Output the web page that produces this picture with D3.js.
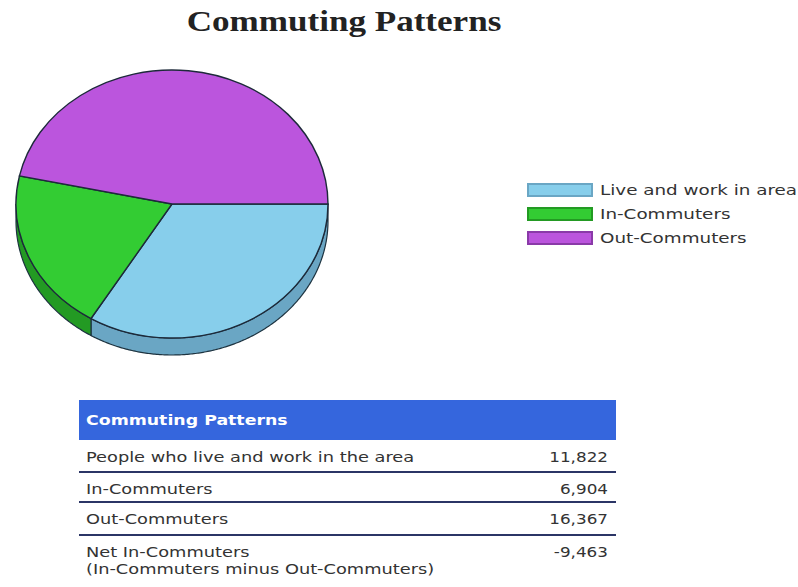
<!DOCTYPE html>
<html>
<head>
<meta charset="utf-8">
<script src="https://cdn.jsdelivr.net/npm/d3@7"></script>
<style>
  body { margin: 0; background: #fff; }
</style>
</head>
<body>
<script>
// data
var categories = ['Live and work in area', 'In-Commuters', 'Out-Commuters'];
var values = [11822, 6904, 16367];
var topColors = ['#87ceeb', '#33cc33', '#bb55dd'];
var sideColors = ['#6aa6c4', '#239a23', '#8a3aa8'];

var rowLabels = [['People who live and work in the area'], ['In-Commuters'], ['Out-Commuters'],
  ['Net In-Commuters', '(In-Commuters minus Out-Commuters)']];
var rowValues = [11822, 6904, 16367, -9463];

var width = 798, height = 587;
var font = 'DejaVu Sans, Verdana, sans-serif';
// the reference is a bit stretched sideways, so text gets a horizontal scale
var stretch = 1.27;
var fmt = d3.formatLocale({decimal: '.', thousands: ',', grouping: [3], currency: ['$', ''], minus: '-'}).format(',');

var svg = d3.select('body').append('svg')
  .attr('width', width)
  .attr('height', height)

function label(parent, x, y, s, sx) {
  return parent.append('text')
    .attr('transform', 'translate(' + x + ',' + y + ') scale(' + (sx || stretch) + ',1)')
    .attr('font-family', font)
    .attr('font-size', 14)
    .attr('fill', '#333')
    .text(s)
}

label(svg, 344, 31, 'Commuting Patterns', 1.17)
  .attr('text-anchor', 'middle')
  .attr('font-family', 'Liberation Serif, serif')
  .attr('font-weight', 'bold')
  .attr('font-size', 30)
  .attr('fill', '#222')

// pie: ellipse centre, radii, thickness
var cx = 172, cy = 204, rx = 156, ry = 134, depth = 17;

var pie = d3.pie().sort(null)
  .startAngle(Math.PI / 2)
  .endAngle(Math.PI / 2 + 2 * Math.PI);
var arcs = pie(values);

// screen angle (0 = east, clockwise) from d3 angle
function sa(a) { return a - Math.PI / 2; }
function pt(t, dy) { return [cx + rx * Math.cos(t), cy + ry * Math.sin(t) + (dy || 0)]; }

var line = d3.line();
var wall = svg.append('g');
arcs.forEach(function(d, i) {
  var a0 = Math.max(sa(d.startAngle), 0), a1 = Math.min(sa(d.endAngle), Math.PI);
  if (a1 <= a0) return;
  var ts = d3.range(a0, a1, 0.01).concat([a1]);
  var pts = ts.map(function(t) { return pt(t); })
    .concat(ts.slice().reverse().map(function(t) { return pt(t, depth); }));
  wall.append('path')
    .attr('d', line(pts) + 'Z')
    .attr('fill', sideColors[i])
    .attr('stroke', '#1d3340')
    .attr('stroke-width', 1.2)
})

var arc = d3.arc().innerRadius(0).outerRadius(rx);
svg.append('g')
  .attr('transform', 'translate(' + cx + ',' + cy + ') scale(1,' + (ry / rx) + ')')
  .selectAll('path')
  .data(arcs)
  .enter().append('path')
  .attr('d', arc)
  .attr('fill', function(d, i) { return topColors[i] })
  .attr('stroke', '#1d2a3a')
  .attr('stroke-width', 1.4)
  .attr('vector-effect', 'non-scaling-stroke')

// legend
var legend = svg.append('g').selectAll('g')
  .data(categories)
  .enter().append('g')
  .attr('transform', function(d, i) { return 'translate(528,' + (184 + i * 24) + ')' })
legend.append('rect')
  .attr('width', 64).attr('height', 12)
  .attr('fill', function(d, i) { return topColors[i] })
  .attr('stroke', function(d, i) { return sideColors[i] })
  .attr('stroke-width', 2)
legend.each(function(d) { label(d3.select(this), 72, 11, d, 1.31) })

// table
var tx = 79, tw = 537;
svg.append('rect')
  .attr('x', tx).attr('y', 400).attr('width', tw).attr('height', 40)
  .attr('fill', '#3566dd')
label(svg, tx + 7, 425, 'Commuting Patterns', 1.24)
  .attr('font-weight', 'bold')
  .attr('fill', '#fff')

var rowTop = [440, 472, 502, 535];
var rowSep = [472, 502, 535];
svg.append('g').selectAll('line')
  .data(rowSep)
  .enter().append('line')
  .attr('x1', tx).attr('x2', tx + tw)
  .attr('y1', function(d) { return d }).attr('y2', function(d) { return d })
  .attr('stroke', '#2b3566')
  .attr('stroke-width', 2)

var rows = svg.append('g').selectAll('g')
  .data(rowLabels)
  .enter().append('g')
  .attr('transform', function(d, i) { return 'translate(0,' + rowTop[i] + ')' })
rows.each(function(lines, i) {
  var g = d3.select(this);
  lines.forEach(function(s, j) { label(g, tx + 7, 22 + j * 17, s) })
  label(g, 608, 22, fmt(rowValues[i]), 1.2).attr('text-anchor', 'end')
})
</script>
</body>
</html>
